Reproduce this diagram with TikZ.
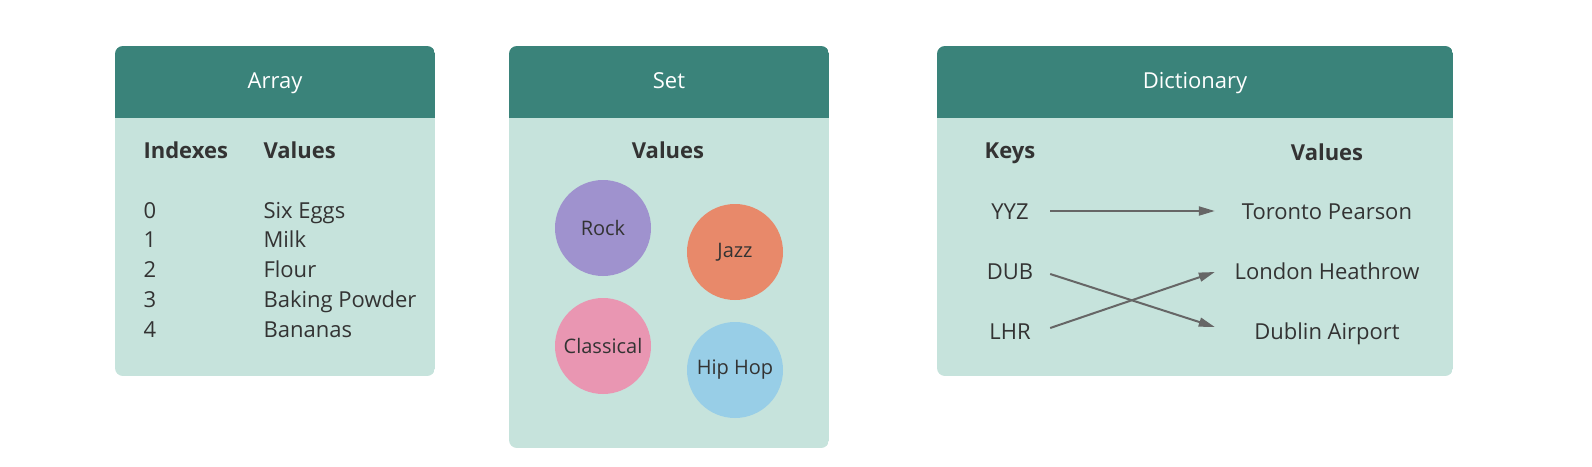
\documentclass[tikz,border=0pt]{standalone}
\usepackage{fontspec}
\setmainfont{Open Sans}
\usetikzlibrary{arrows.meta,positioning}
\definecolor{headteal}{HTML}{3A837A}
\definecolor{bodymint}{HTML}{C6E3DC}
\definecolor{inkgray}{HTML}{333333}
\definecolor{arrowgray}{HTML}{666666}
\definecolor{rockpurple}{HTML}{9F92CE}
\definecolor{jazzorange}{HTML}{E8896A}
\definecolor{classicpink}{HTML}{E996B2}
\definecolor{hiphopblue}{HTML}{98CEE7}
\begin{document}
\begin{tikzpicture}[x=1pt, y=-1pt, font=\fontsize{22}{26}\selectfont, text=inkgray]
	\tikzset{title/.style={text=white, anchor=base},
		hdr/.style={font=\fontsize{22}{26}\selectfont\bfseries},
		item/.style={anchor=base west},
		genre/.style={circle, minimum size=96pt, inner sep=0pt, font=\fontsize{20}{24}\selectfont},
		key/.style={anchor=base, minimum width=80pt, inner sep=0pt, text height=16pt, text depth=0pt},
		val/.style={anchor=base, minimum width=224pt, inner sep=0pt, text height=16pt, text depth=0pt},
		link/.style={draw=arrowgray, line width=2pt, -{Triangle[length=16pt,width=9pt]}}}
	\useasboundingbox (0,0) rectangle (1592,466);
	% the three panels
	\foreach \xa/\xb/\yb/\name in {115/435/376/Array,509/829/448/Set,937/1453/376/Dictionary}{
		\begin{scope}
			\clip[rounded corners=8pt] (\xa,46) rectangle (\xb,\yb);
			\fill[bodymint] (\xa,46) rectangle (\xb,\yb);
			\fill[headteal] (\xa,46) rectangle (\xb,118);
		\end{scope}
		\node[title] (\name) at ({(\xa+\xb)/2},88) {\name};
	}
	% array
	\node[hdr,item] (idxhead) at (140,158) {Indexes};
	\node[hdr,item] (valhead) at (260,158) {Values};
	\foreach \i/\v in {0/Six Eggs,1/Milk,2/Flour,3/Baking Powder,4/Bananas}
		\node[item] (idx\i) at (140,{218+29.8*\i}) {\i} node[item] (val\i) at (260,{218+29.8*\i}) {\v};
	% set
	\node[hdr,anchor=base] (setvals) at (668,158) {Values};
	\node[genre,fill=rockpurple] (rock) at (603,228) {Rock};
	\node[genre,fill=jazzorange] (jazz) at (735,252) {Jazz};
	\node[genre,fill=classicpink] (classical) at (603,346) {Classical};
	\node[genre,fill=hiphopblue] (hiphop) at (735,370) {Hip Hop};
	% dictionary
	\node[hdr,anchor=base] (keyhead) at (1010,158) {Keys};
	\node[hdr,anchor=base] (dictvals) at (1327,160) {Values};
	\node[key] (yyz) at (1010,219) {YYZ};
	\node[key] (dub) at (1010,279) {DUB};
	\node[key] (lhr) at (1010,339) {LHR};
	\node[val] (yyzval) at (1327,219) {Toronto Pearson};
	\node[val] (lhrval) at (1327,279) {London Heathrow};
	\node[val] (dubval) at (1327,339) {Dublin Airport};
	\draw[link] (yyz.east) -- (yyzval.west);
	\draw[link] ([yshift=-3pt]dub.east) -- ([yshift=4pt]dubval.west);
	\draw[link] ([yshift=3pt]lhr.east) -- ([yshift=-1pt]lhrval.west);
\end{tikzpicture}
\end{document}
